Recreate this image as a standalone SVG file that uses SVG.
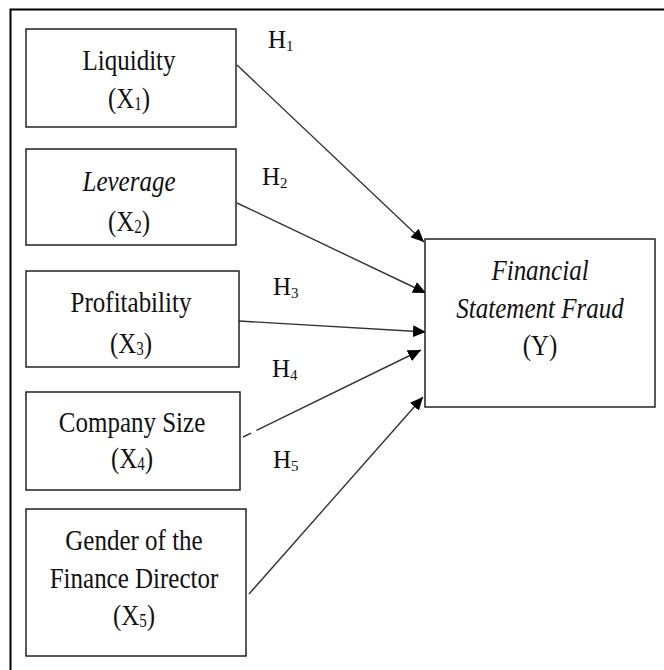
<svg xmlns="http://www.w3.org/2000/svg" width="664" height="670" viewBox="0 0 664 670">
<defs>
<style>
.frame{fill:none;stroke:#000;stroke-width:2}
.box{fill:#fff;stroke:#222;stroke-width:1.5}
.t{font-family:"Liberation Serif","Times New Roman",serif;font-size:25px;fill:#111;text-anchor:middle}
.it{font-style:italic}
.h{font-family:"Liberation Serif","Times New Roman",serif;font-size:25px;fill:#111}
.sub{font-size:15px}
.conn{stroke:#333;stroke-width:1.4;fill:none;marker-end:url(#ah)}
</style>
<marker id="ah" markerUnits="userSpaceOnUse" markerWidth="14" markerHeight="12" refX="13" refY="6" orient="auto">
<path d="M0,0 L13,6 L0,12 Z" fill="#000"/>
</marker>
</defs>
<rect width="664" height="670" fill="#fff"/>
<rect class="frame" x="10.5" y="9.5" width="670" height="680"/>

<g id="connectors">
<line class="conn" x1="237" y1="65" x2="424" y2="242"/>
<line class="conn" x1="237" y1="203" x2="426" y2="293"/>
<line class="conn" x1="239" y1="321" x2="426" y2="332"/>
<line class="conn" x1="243" y1="437" x2="421" y2="350" stroke-dasharray="9,6,1000"/>
<line class="conn" x1="249" y1="594" x2="423" y2="397"/>
<text class="h" x="268" y="48">H<tspan class="sub" dy="3">1</tspan></text>
<text class="h" x="262" y="185">H<tspan class="sub" dy="3">2</tspan></text>
<text class="h" x="273" y="295">H<tspan class="sub" dy="3">3</tspan></text>
<text class="h" x="272" y="377">H<tspan class="sub" dy="3">4</tspan></text>
<text class="h" x="273" y="468">H<tspan class="sub" dy="3">5</tspan></text>
</g>

<g id="x1">
<rect class="box" x="26" y="29" width="210" height="98"/>
<text class="t" transform="translate(129,70) scale(1,1.22)">Liquidity</text>
<text class="t" transform="translate(129,108) scale(1,1.22)">(X<tspan class="sub" dy="2">1</tspan><tspan dy="-2">)</tspan></text>
</g>

<g id="x2">
<rect class="box" x="26" y="149" width="210" height="96"/>
<text class="t it" transform="translate(129,191) scale(1,1.22)">Leverage</text>
<text class="t" transform="translate(129,231) scale(1,1.22)">(X<tspan class="sub" dy="2">2</tspan><tspan dy="-2">)</tspan></text>
</g>

<g id="x3">
<rect class="box" x="26" y="271" width="213" height="96"/>
<text class="t" transform="translate(131,312) scale(1,1.22)">Profitability</text>
<text class="t" transform="translate(131,353) scale(1,1.22)">(X<tspan class="sub" dy="2">3</tspan><tspan dy="-2">)</tspan></text>
</g>

<g id="x4">
<rect class="box" x="26" y="392" width="214" height="98"/>
<text class="t" transform="translate(132,432) scale(1,1.22)">Company Size</text>
<text class="t" transform="translate(132,468) scale(1,1.22)">(X<tspan class="sub" dy="2">4</tspan><tspan dy="-2">)</tspan></text>
</g>

<g id="x5">
<rect class="box" x="26" y="509" width="220" height="147"/>
<text class="t" transform="translate(134,550) scale(1,1.22)">Gender of the</text>
<text class="t" transform="translate(134,588) scale(1,1.22)">Finance Director</text>
<text class="t" transform="translate(134,625) scale(1,1.22)">(X<tspan class="sub" dy="2">5</tspan><tspan dy="-2">)</tspan></text>
</g>

<g id="y">
<rect class="box" x="425" y="239" width="230" height="168"/>
<text class="t it" transform="translate(540,280) scale(1,1.22)">Financial</text>
<text class="t it" transform="translate(540,318) scale(1,1.22)">Statement Fraud</text>
<text class="t" transform="translate(540,355) scale(1,1.22)">(Y)</text>
</g>
</svg>
